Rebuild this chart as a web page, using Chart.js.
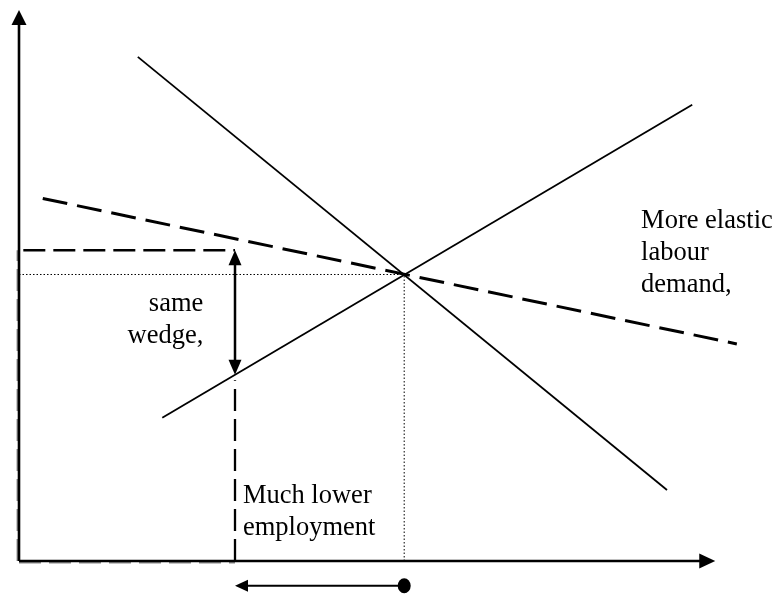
<!DOCTYPE html>
<html>
<head>
<meta charset="utf-8">
<script src="https://cdn.jsdelivr.net/npm/chart.js@4/dist/chart.umd.min.js"></script>
<style>
  html, body { margin: 0; padding: 0; background: #fff; }
  #wrap { width: 778px; height: 596px; position: relative; }
</style>
</head>
<body>
<div id="wrap"><canvas id="c"></canvas></div>
<script>
// labour (x) vs wage (y), arbitrary units
const demandX = [16.5, 90.0];
const demandY = [91.5, 12.9];
const supplyX = [19.9, 93.5];
const supplyY = [26.0, 82.8];
const elasticDemandX = [3.3, 99.7];
const elasticDemandY = [65.8, 39.4];
const equilibrium = [53.5, 52.0];       // employment, wage
const wedgeEmployment = 30.0;            // much lower employment
const wedgeTop = 56.4;                   // wage paid by employer
const wedgeBottom = 33.8;                // wage on supply curve
const axisEndX = 96.7;
const axisEndY = 100;
const shiftRowY = -4.5;                  // arrow under the x axis

const labels = [
  { lines: ['same', 'wedge,'], x: 25.6, y: 45.4, align: 'right' },
  { lines: ['Much lower', 'employment'], x: 31.1, y: 10.5, align: 'left' },
  { lines: ['More elastic', 'labour', 'demand,'], x: 86.4, y: 60.4, align: 'left' }
];

function seg(xs, ys) {
  return xs.map(function (x, i) { return { x: x, y: ys[i] }; });
}

function line(data, width, dash, color) {
  return {
    data: data,
    showLine: true,
    borderColor: color || '#000',
    backgroundColor: color || '#000',
    borderWidth: width,
    borderDash: dash || [],
    pointRadius: 0,
    clip: false
  };
}

const arrowPlugin = {
  id: 'arrows',
  afterDatasetsDraw: chart => {
    const ctx = chart.ctx;
    const xs = chart.scales['x'];
    const ys = chart.scales['y'];
    const px = v => xs.getPixelForValue(v);
    const py = v => ys.getPixelForValue(v);

    function head(x, y, dx, dy, len, half) {
      ctx.beginPath();
      ctx.moveTo(x, y);
      ctx.lineTo(x - dx * len - dy * half, y - dy * len + dx * half);
      ctx.lineTo(x - dx * len + dy * half, y - dy * len - dx * half);
      ctx.closePath();
      ctx.fill();
    }

    ctx.save();
    ctx.fillStyle = '#000';
    // axes
    head(px(0), py(axisEndY), 0, -1, 15, 7.5);
    head(px(axisEndX), py(0), 1, 0, 16, 7.5);
    // wedge double arrow
    head(px(wedgeEmployment), py(wedgeTop), 0, -1, 15, 6.5);
    head(px(wedgeEmployment), py(wedgeBottom), 0, 1, 15, 6.5);
    // employment shift arrow
    head(px(wedgeEmployment), py(shiftRowY), -1, 0, 13, 6);
    ctx.beginPath();
    ctx.ellipse(px(equilibrium[0]), py(shiftRowY), 6.5, 7.5, 0, 0, Math.PI * 2);
    ctx.fill();

    // text
    ctx.font = '26.5px "Liberation Serif", "Times New Roman", serif';
    ctx.textBaseline = 'alphabetic';
    labels.forEach(l => {
      ctx.textAlign = l.align;
      l.lines.forEach((t, i) => {
        ctx.fillText(t, px(l.x), py(l.y) + i * 32);
      });
    });
    ctx.restore();
  }
};

var chart = new Chart(document.getElementById('c'), {
  type: 'scatter',
  plugins: [arrowPlugin],
  data: {
    datasets: [
      line(seg([0, 0], [0, axisEndY - 2]), 2.6),
      line(seg([0, axisEndX - 2], [0, 0]), 2.6),
      line(seg(demandX, demandY), 1.8),
      line(seg(supplyX, supplyY), 1.8),
      line(seg(elasticDemandX, elasticDemandY), 3, [25, 10]),
      line(seg([0, equilibrium[0]], [equilibrium[1], equilibrium[1]]), 1, [1.5, 2]),
      line(seg([equilibrium[0], equilibrium[0]], [0, equilibrium[1]]), 1, [1.5, 2]),
      line(seg([0.6, wedgeEmployment], [wedgeTop, wedgeTop]), 2.3, [22, 8]),
      line(seg([wedgeEmployment, wedgeEmployment], [wedgeTop - 2, wedgeBottom + 2]), 2.5),
      line(seg([wedgeEmployment, wedgeEmployment], [0, wedgeBottom - 1]), 2.3, [22, 8]),
      line(seg([-0.2, -0.2], [0, wedgeTop]), 2, [22, 8], '#888'),
      line(seg([0, wedgeEmployment], [-0.25, -0.25]), 2, [22, 8], '#888'),
      line(seg([wedgeEmployment + 1.5, equilibrium[0]], [shiftRowY, shiftRowY]), 2)
    ]
  },
  options: {
    responsive: true,
    maintainAspectRatio: false,
    animation: false,
    events: [],
    layout: {
      padding: { left: 19, right: 39, top: 10, bottom: 0 }
    },
    plugins: {
      legend: { display: false },
      tooltip: { enabled: false }
    },
    scales: {
      x: { type: 'linear', display: false, min: 0, max: 100 },
      y: { type: 'linear', display: false, min: -6.35, max: 100 }
    }
  }
});
</script>
</body>
</html>
